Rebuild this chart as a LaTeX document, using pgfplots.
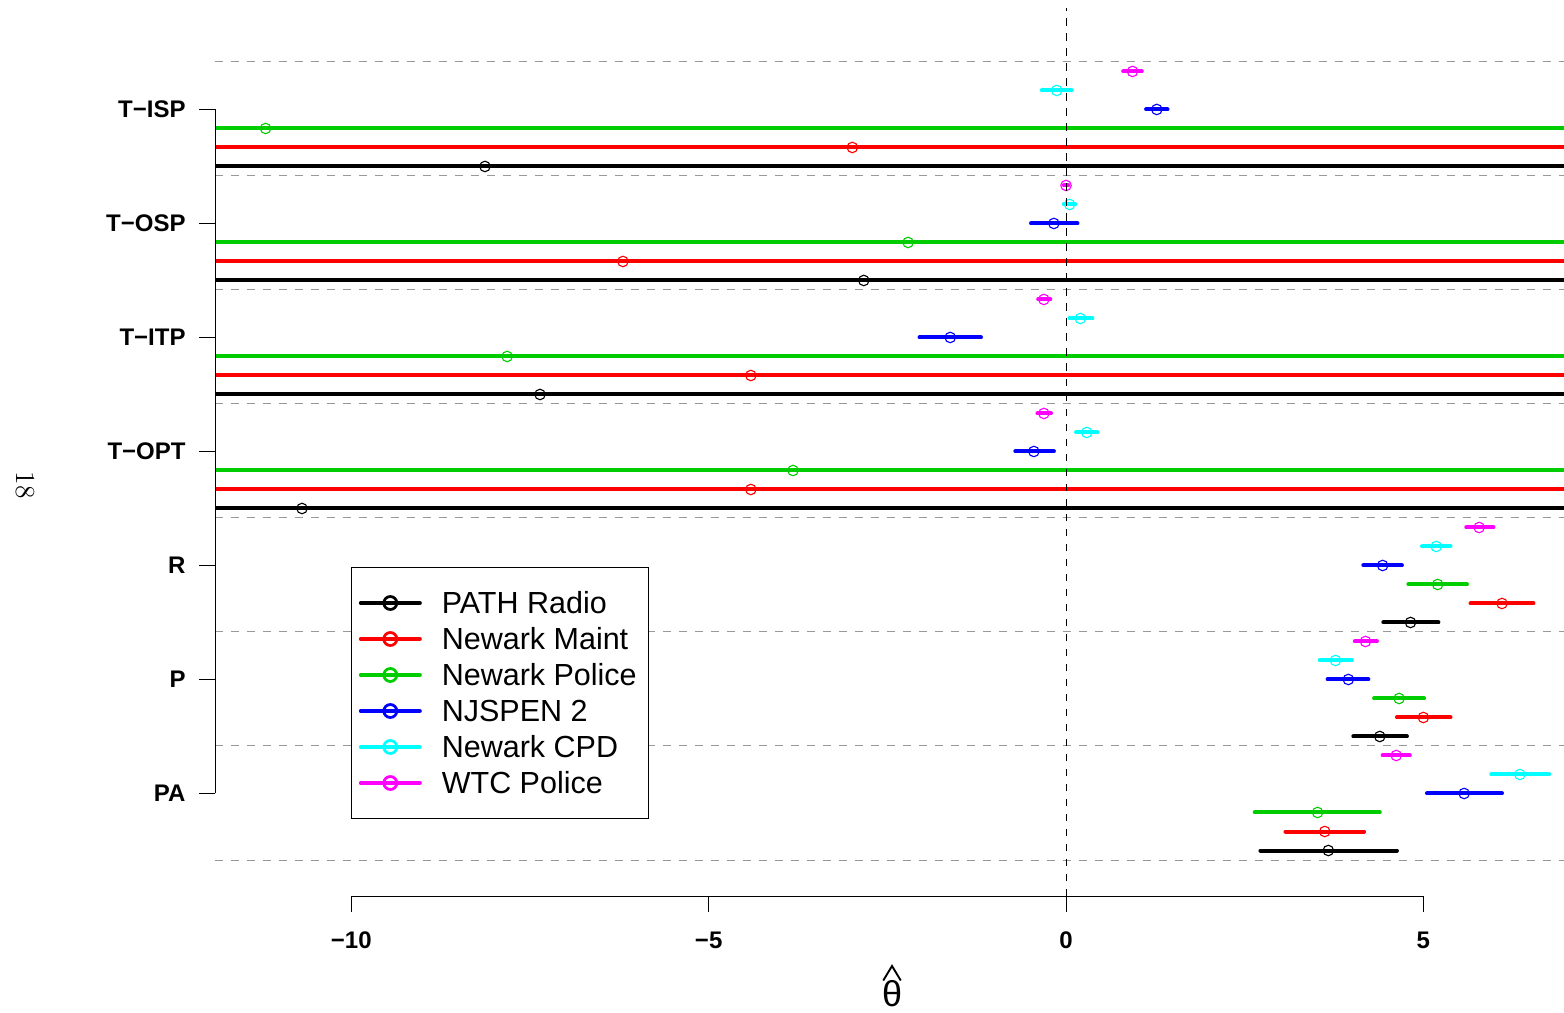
\documentclass[border=0pt]{standalone}
\usepackage{pgfplots}
\usepackage{pgfplotstable}
\pgfplotsset{compat=1.18}
\usepackage{fontspec}
\setsansfont{Liberation Sans}
\definecolor{rgreen}{RGB}{0,205,0}
\definecolor{rcyan}{RGB}{0,255,255}
\definecolor{rmag}{RGB}{255,0,255}
\definecolor{rred}{RGB}{255,0,0}
\definecolor{rblue}{RGB}{0,0,255}
\definecolor{gridgray}{RGB}{153,153,153}

% columns: estimate, row position, CI minus, CI plus (30 = unbounded)
\pgfplotstableread{
x y em ep
3.67 0.5 0.95 0.96
4.39 6.5 0.37 0.38
4.82 12.5 0.38 0.39
-10.69 18.5 30 30
-7.36 24.5 30 30
-2.83 30.5 30 30
-8.13 36.5 30 30
}\pathradio
\pgfplotstableread{
x y em ep
3.62 1.5 0.55 0.55
5.00 7.5 0.37 0.38
6.10 13.5 0.44 0.44
-4.41 19.5 30 30
-4.41 25.5 30 30
-6.20 31.5 30 30
-2.99 37.5 30 30
}\newarkmaint
\pgfplotstableread{
x y em ep
3.52 2.5 0.88 0.87
4.66 8.5 0.35 0.35
5.20 14.5 0.41 0.41
-3.82 20.5 30 30
-7.82 26.5 30 30
-2.21 32.5 30 30
-11.20 38.5 30 30
}\newarkpolice
\pgfplotstableread{
x y em ep
5.57 3.5 0.52 0.53
3.95 9.5 0.29 0.28
4.43 15.5 0.27 0.27
-0.45 21.5 0.26 0.28
-1.62 27.5 0.43 0.43
-0.17 33.5 0.32 0.33
1.27 39.5 0.15 0.15
}\njspen
\pgfplotstableread{
x y em ep
6.35 4.5 0.40 0.41
3.77 10.5 0.22 0.23
5.18 16.5 0.20 0.20
0.29 22.5 0.15 0.15
0.20 28.5 0.15 0.17
0.05 34.5 0.08 0.08
-0.13 40.5 0.21 0.21
}\newarkcpd
\pgfplotstableread{
x y em ep
4.62 5.5 0.19 0.19
4.19 11.5 0.15 0.16
5.78 17.5 0.18 0.20
-0.31 23.5 0.09 0.10
-0.31 29.5 0.08 0.09
0.00 35.5 0.03 0.03
0.93 41.5 0.13 0.13
}\wtcpolice

\pgfplotsset{
  ci/.style={color=#1, only marks, mark=o, mark size=2.1pt,
    mark options={line width=0.45pt, solid, fill=none}, forget plot},
  legci/.style={legend image code/.code={
    \draw[#1, line width=1.6pt, line cap=round] (0pt,0pt) -- (23.6pt,0pt);
    \draw[#1, line width=1.1pt] (11.8pt,0pt) circle (2.6pt);}},
}

\begin{document}
\begin{tikzpicture}
\useasboundingbox (0,0) rectangle (625.6pt,404.8pt);
\begin{axis}[
  at={(86pt,46.4pt)}, anchor=south west,
  scale only axis, width=539.6pt, height=355.2pt,
  xmin=-11.907, xmax=6.968, ymin=-1.895, ymax=44.84,
  clip mode=individual,
  separate axis lines, axis x line*=bottom, axis y line*=left,
  axis line style={draw=none},
  tick align=outside, major tick length=6.4pt,
  tick style={black, line width=0.4pt},
  xtick={-10,-5,0,5}, xticklabels={−10,−5,0,5},
  ytick={3.5,9.5,15.5,21.5,27.5,33.5,39.5},
  yticklabels={PA,P,R,T−OPT,T−ITP,T−OSP,T−ISP},
  ticklabel style={font=\sffamily\bfseries\fontsize{9.6}{11}\selectfont, inner sep=0pt},
  x tick label style={anchor=north}, xticklabel shift=7.6pt,
  y tick label style={anchor=east}, yticklabel shift=5.2pt,
  extra y ticks={0,6,12,18,24,30,36,42},
  extra y tick labels={},
  extra y tick style={grid=major, major tick length=0pt,
     major grid style={gridgray, line width=0.4pt, dash pattern=on 3.2pt off 3.2pt}},
  legend style={at={(axis cs:-10,15.42)}, anchor=north west, draw=black,
     line width=0.4pt, fill=white,
     font=\sffamily\fontsize{12.2}{14}\selectfont,
     inner xsep=2.8pt, inner ysep=8.7pt, row sep=3.4pt, column sep=8pt,
     nodes={inner sep=0pt, text height=9.7pt, text depth=1.3pt}},
  legend cell align=left,
]
\addplot[ci=black, error bars/.cd, x dir=both, x explicit, error mark=none,
  error bar style={line width=1.6pt, line cap=round, solid}]
  table[x=x, y=y, x error minus=em, x error plus=ep]{\pathradio};
\addplot[ci=rred, error bars/.cd, x dir=both, x explicit, error mark=none,
  error bar style={line width=1.6pt, line cap=round, solid}]
  table[x=x, y=y, x error minus=em, x error plus=ep]{\newarkmaint};
\addplot[ci=rgreen, error bars/.cd, x dir=both, x explicit, error mark=none,
  error bar style={line width=1.6pt, line cap=round, solid}]
  table[x=x, y=y, x error minus=em, x error plus=ep]{\newarkpolice};
\addplot[ci=rblue, error bars/.cd, x dir=both, x explicit, error mark=none,
  error bar style={line width=1.6pt, line cap=round, solid}]
  table[x=x, y=y, x error minus=em, x error plus=ep]{\njspen};
\addplot[ci=rcyan, error bars/.cd, x dir=both, x explicit, error mark=none,
  error bar style={line width=1.6pt, line cap=round, solid}]
  table[x=x, y=y, x error minus=em, x error plus=ep]{\newarkcpd};
\addplot[ci=rmag, error bars/.cd, x dir=both, x explicit, error mark=none,
  error bar style={line width=1.6pt, line cap=round, solid}]
  table[x=x, y=y, x error minus=em, x error plus=ep]{\wtcpolice};

\addlegendimage{legci=black}
\addlegendimage{legci=rred}
\addlegendimage{legci=rgreen}
\addlegendimage{legci=rblue}
\addlegendimage{legci=rcyan}
\addlegendimage{legci=rmag}
\legend{PATH Radio,Newark Maint,Newark Police\kern2pt,NJSPEN 2,Newark CPD,WTC Police}

\draw[black, line width=0.4pt, dash pattern=on 3pt off 3pt]
  (axis cs:0,-1.895) -- (axis cs:0,44.84);
\draw[black, line width=0.4pt] (axis cs:-10,-1.895) -- (axis cs:5,-1.895);
\draw[black, line width=0.4pt] (axis cs:-11.907,3.5) -- (axis cs:-11.907,39.5);
\end{axis}
\node[rotate=-90, font=\rmfamily\fontsize{11}{13}\selectfont] at (10pt,210.8pt) {18};
\node[font=\sffamily\fontsize{14.4}{14.4}\selectfont, anchor=base, inner sep=0pt]
  at (356.8pt,2.2pt) {θ};
\draw[black, line width=0.75pt, line join=miter]
  (353.3pt,12.6pt) -- (356.8pt,18.4pt) -- (360.3pt,12.6pt);
\end{tikzpicture}
\end{document}
